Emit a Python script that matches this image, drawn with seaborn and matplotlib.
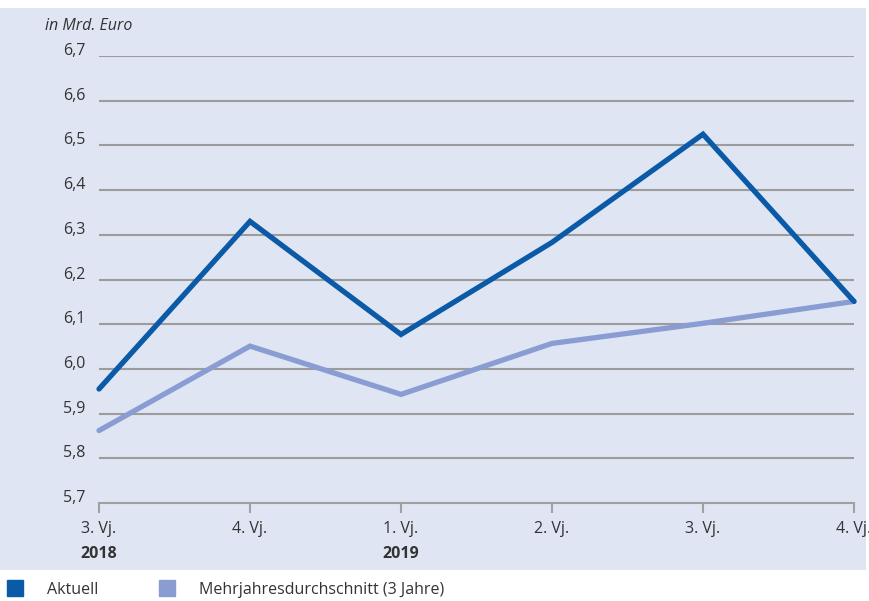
import matplotlib
matplotlib.use("Agg")
import matplotlib.pyplot as plt
import matplotlib.transforms as mtransforms
from matplotlib.patches import Rectangle
from matplotlib.lines import Line2D
import seaborn as sns
import pandas as pd

quarters = ["3. Vj.", "4. Vj.", "1. Vj.", "2. Vj.", "3. Vj.", "4. Vj."]
years = ["2018", "", "2019", "", "", ""]
aktuell = [5.955, 6.33, 6.077, 6.283, 6.525, 6.151]
mehrjahres = [5.862, 6.051, 5.943, 6.057, 6.102, 6.151]
series_names = ["Aktuell", "Mehrjahresdurchschnitt (3 Jahre)"]
colors = ["#0a5aa8", "#8a9dd3"]
yticks = [5.7, 5.8, 5.9, 6.0, 6.1, 6.2, 6.3, 6.4, 6.5, 6.6, 6.7]

df = pd.DataFrame({
    "idx": list(range(len(quarters))) * 2,
    "value": aktuell + mehrjahres,
    "series": [series_names[0]] * len(quarters) + [series_names[1]] * len(quarters),
})

sns.set_theme(style="white")
plt.rcParams["font.family"] = ["Open Sans", "DejaVu Sans"]
text_color = "#333333"

W, H = 870, 601
fig = plt.figure(figsize=(W / 100, H / 100), dpi=100, facecolor="white")
bg = Rectangle((0, 1 - 570 / H), 866 / W, (570 - 8) / H, transform=fig.transFigure,
               facecolor="#dfe5f2", edgecolor="none", zorder=-10)
fig.add_artist(bg)

ax = fig.add_axes([99 / W, 1 - 503 / H, (854 - 99) / W, (503 - 56) / H])
ax.set_facecolor("none")
ax.set_zorder(1)

sns.lineplot(data=df, x="idx", y="value", hue="series", palette=colors,
             hue_order=series_names, linewidth=3.8, legend=False, ax=ax)
lines = ax.get_lines()
lines[0].set_zorder(4)
lines[1].set_zorder(3)
for ln in lines:
    ln.set_solid_joinstyle("miter")
    ln.set_clip_on(False)

ax.set_xlim(0, len(quarters) - 1)
ax.set_ylim(5.7, 6.7)
ax.set_xlabel("")
ax.set_ylabel("")

for s in ["top", "right", "left"]:
    ax.spines[s].set_visible(False)
ax.spines["bottom"].set_color("#a0a0a0")
ax.spines["bottom"].set_linewidth(1.5)

ax.set_yticks(yticks)
ax.set_yticklabels([f"{v:.1f}".replace(".", ",") for v in yticks])
ax.tick_params(axis="y", left=False, length=0, pad=10, labelsize=11.5, labelcolor=text_color)
offset = mtransforms.ScaledTranslation(0, 5 / 72, fig.dpi_scale_trans)
for lab in ax.get_yticklabels():
    lab.set_transform(lab.get_transform() + offset)
for v in yticks[1:]:
    ax.axhline(v, color="#9c9c9c", linewidth=1.5, zorder=1)

ax.set_xticks(range(len(quarters)))
ax.set_xticklabels(quarters)
ax.tick_params(axis="x", bottom=True, direction="out", length=7.2, width=1.5, color="#a0a0a0",
               pad=6, labelsize=11.5, labelcolor=text_color)
for i, y in enumerate(years):
    if y:
        ax.text(i, -0.113, y, transform=ax.get_xaxis_transform(), ha="center", va="center",
                fontsize=11.5, fontweight="bold", color=text_color)

fig.text(45 / W, 1 - 26 / H, "in Mrd. Euro", ha="left", va="center", fontsize=11.5,
         style="italic", color=text_color)

handles = [Line2D([], [], marker="s", linestyle="none", markersize=11,
                  markerfacecolor=c, markeredgecolor=c) for c in colors]
fig.legend(handles, series_names, loc="center left", bbox_to_anchor=(2 / W, 1 - 590 / H),
           ncol=2, frameon=False, fontsize=11.5, handlelength=1.0, handletextpad=1.5,
           columnspacing=3.8, borderaxespad=0, borderpad=0.3, labelcolor=text_color)

fig.savefig("out.png", dpi=100, facecolor="white")
